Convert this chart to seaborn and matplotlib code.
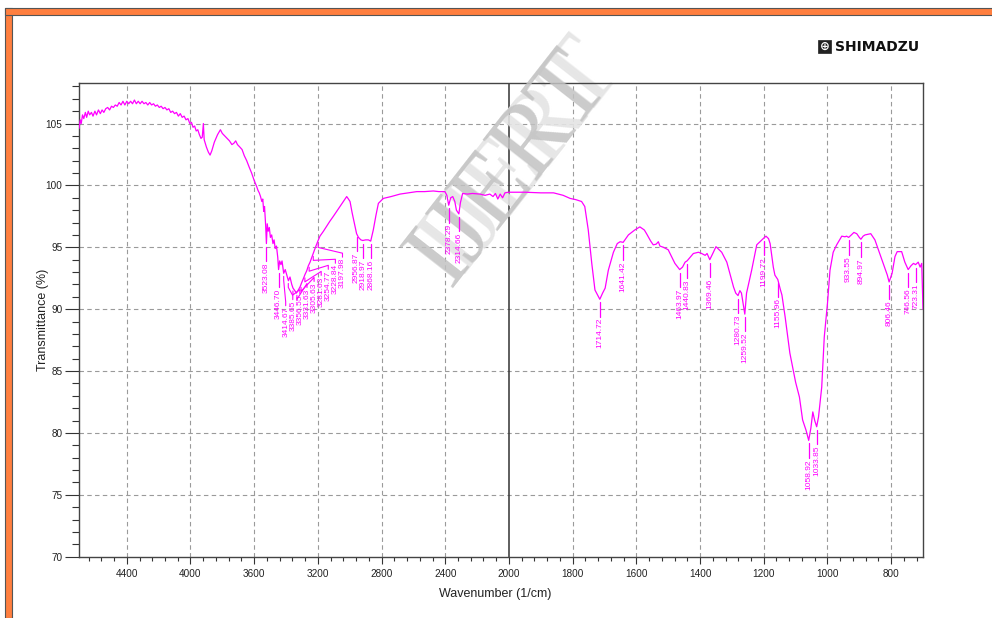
import numpy as np
import pandas as pd
import matplotlib
matplotlib.use("Agg")
import matplotlib.pyplot as plt
from matplotlib import font_manager
from matplotlib.patches import Rectangle
from matplotlib.ticker import FixedLocator, NullFormatter
import matplotlib.transforms as mtransforms
import seaborn as sns

# ---- spectrum (wavenumber in 1/cm, transmittance in %) ----
wavenumber = [
    4700, 4692, 4686, 4678, 4670, 4660, 4652, 4642, 4633, 4622, 4612, 4600, 4590, 4578,
    4566, 4555, 4544, 4532, 4520, 4508, 4496, 4484, 4472, 4460, 4448, 4436, 4424, 4412,
    4400, 4388, 4376, 4364, 4352, 4340, 4328, 4316, 4304, 4292, 4280, 4268, 4256, 4244,
    4232, 4220, 4208, 4196, 4184, 4172, 4160, 4148, 4136, 4124, 4112, 4100, 4088, 4076,
    4064, 4052, 4040, 4028, 4016, 4004, 3994, 3984, 3974, 3964, 3954, 3944, 3934, 3926,
    3919, 3914, 3900, 3888, 3877, 3866, 3850, 3830, 3812, 3800, 3785, 3770, 3755, 3740,
    3728, 3716, 3705, 3690, 3676, 3662, 3647, 3632, 3616, 3600, 3590, 3584, 3576, 3568,
    3560, 3552, 3546, 3540, 3535, 3528, 3523.08, 3518, 3512, 3505, 3498, 3490, 3482, 3475,
    3468, 3460, 3452, 3446.70, 3440, 3432, 3425, 3414.67, 3405, 3396, 3385, 3375, 3364,
    3356, 3345, 3335, 3325, 3312, 3300, 3290, 3281, 3270, 3260, 3249, 3235, 3218, 3200,
    3187, 3165, 3145, 3125, 3103, 3082, 3061, 3040, 3019, 3008, 2998, 2985, 2970, 2956.87,
    2945, 2930, 2918, 2900, 2883, 2868.16, 2852, 2835, 2820, 2789, 2740, 2684, 2630, 2579,
    2530, 2475, 2440, 2402, 2390, 2378.29, 2366, 2353, 2340, 2330, 2314.66, 2305, 2291,
    2260, 2230, 2182, 2150, 2120, 2100, 2085, 2070, 2055, 2040, 2025, 2004, 1950, 1900,
    1860, 1830, 1808, 1790, 1772, 1762, 1751, 1740, 1730, 1714.72, 1706, 1698, 1688, 1672,
    1660, 1651, 1641.42, 1625, 1605, 1589, 1575, 1568, 1555, 1547, 1538, 1531, 1526, 1515,
    1500, 1479, 1463.97, 1455, 1447, 1440.83, 1421, 1405, 1395, 1384, 1378, 1369.46, 1360,
    1350, 1340, 1332, 1316, 1301, 1295, 1288, 1280.73, 1275, 1270, 1259.52, 1254, 1238,
    1222, 1206, 1199.72, 1193, 1185, 1180, 1170, 1165, 1155.96, 1148, 1143, 1133, 1118,
    1100, 1088, 1078, 1067, 1058.92, 1052, 1046, 1040, 1033.85, 1028, 1018, 1010, 1000,
    992, 982, 971, 955, 945, 940, 933.55, 925, 917, 908, 900, 894.97, 888, 882, 864, 851,
    840, 825, 812, 806.46, 797, 788, 781, 767, 757, 746.56, 738, 730, 723.31, 715, 709,
    704, 700,
]
transmittance = [
    104.6, 105.3, 105.0, 105.7, 105.4, 105.9, 105.5, 106.0, 105.7, 105.9, 105.6, 106.0, 105.7, 106.1,
    105.8, 106.1, 105.9, 106.2, 106.3, 106.1, 106.4, 106.3, 106.5, 106.4, 106.7, 106.5, 106.8, 106.5,
    106.8, 106.6, 106.8, 106.6, 106.9, 106.6, 106.8, 106.6, 106.8, 106.6, 106.7, 106.5, 106.7, 106.5,
    106.6, 106.4, 106.5, 106.3, 106.4, 106.2, 106.3, 106.1, 106.2, 105.9, 106.0, 105.8, 105.9, 105.6,
    105.8, 105.5, 105.6, 105.3, 105.4, 105.0, 105.1, 104.7, 104.8, 104.4, 104.5, 104.1, 103.8, 103.9,
    105.0, 103.7, 103.1, 102.7, 102.45, 102.8, 103.5, 104.1, 104.5, 104.2, 104.0, 103.8, 103.6, 103.3,
    103.4, 103.6, 103.3, 103.1, 102.9, 102.4, 102.0, 101.5, 101.0, 100.4, 100.1, 99.9, 99.6, 99.4,
    99.1, 98.7, 98.9, 97.9, 98.3, 96.8, 95.3, 96.9, 96.3, 96.6, 95.8, 96.0, 95.3, 95.6,
    94.9, 95.1, 94.2, 93.2, 93.9, 93.6, 93.9, 92.9, 93.2, 92.8, 92.3, 92.6, 92.0,
    91.7, 91.5, 91.3, 91.5, 91.8, 92.2, 92.5, 92.8, 93.1, 93.5, 93.8, 94.3, 94.9, 95.5,
    95.9, 96.3, 96.7, 97.1, 97.5, 97.9, 98.3, 98.7, 99.1, 98.9, 98.7, 97.8, 96.9, 96.1,
    95.8, 95.6, 95.55, 95.6, 95.6, 95.5, 96.4, 97.6, 98.55, 98.95, 99.1, 99.3, 99.4, 99.5,
    99.5, 99.55, 99.5, 99.5, 99.2, 98.4, 99.0, 99.1, 98.7, 98.0, 97.7, 98.6, 99.35,
    99.3, 99.35, 99.3, 99.2, 99.3, 99.1, 99.35, 98.9, 99.3, 99.0, 99.4, 99.45, 99.45, 99.4,
    99.4, 99.2, 98.95, 98.85, 98.7, 98.3, 96.4, 93.7, 91.55, 90.8, 91.3, 91.7, 93.15, 94.6,
    95.3, 95.45, 95.4, 96.0, 96.4, 96.65, 96.4, 96.1, 95.5, 95.2, 95.25, 95.45, 95.1, 95.0,
    94.8, 93.7, 93.2, 93.4, 93.8, 93.9, 94.5, 94.6, 94.5, 94.35, 94.5, 94.0, 94.5,
    95.05, 94.8, 94.6, 93.8, 92.35, 91.8, 91.3, 91.1, 91.5, 91.3, 89.6, 91.3, 93.15,
    95.2, 95.6, 95.75, 95.9, 95.7, 95.3, 93.4, 92.75, 92.4, 91.6, 91.15, 89.4, 86.45,
    84.1, 82.9, 81.05, 80.2, 79.4, 80.4, 81.7, 81.0, 80.5, 81.3, 83.7, 87.75, 90.45,
    93.15, 94.6, 95.2, 95.9, 95.85, 95.9, 95.8, 96.0, 96.2, 96.1, 95.8, 95.65, 95.9, 96.0, 96.1, 95.6,
    94.8, 93.7, 92.75, 92.2, 92.9, 94.25, 94.65, 94.65, 93.8, 93.2, 93.5, 93.7, 93.6, 93.8, 93.4,
    93.7, 90.0,
]

# ---- peak picks ----
peak_labels = ["3523.08", "3446.70", "2956.87", "2918.97", "2868.16", "2378.29", "2314.66",
               "1714.72", "1641.42", "1463.97", "1440.83", "1369.46", "1280.73", "1259.52",
               "1199.72", "1155.96", "1058.92", "1033.85", "933.55", "894.97", "806.46",
               "746.56", "723.31"]
cluster_labels = ["3414.67", "3385.65", "3356.55", "3331.63", "3305.63", "3281.63",
                  "3254.77", "3228.84", "3197.98"]

x_major = [4400, 4000, 3600, 3200, 2800, 2400, 2000, 1800, 1600, 1400, 1200, 1000, 800]
y_major = [70, 75, 80, 85, 90, 95, 100, 105]

MAGENTA = "#ff00ff"


def first_font(cands):
    for c in cands:
        try:
            font_manager.findfont(font_manager.FontProperties(family=c),
                                  fallback_to_default=False)
            return c
        except ValueError:
            continue
    return "DejaVu Sans"


sns.set_theme(style="white")
narrow = first_font(["Liberation Sans Narrow", "Arial Narrow", "Liberation Sans"])
sans = first_font(["Liberation Sans", "Arial"])
serif = first_font(["Liberation Serif", "DejaVu Serif"])
plt.rcParams["font.family"] = [sans, "DejaVu Sans"]

W, H = 992, 618
fig = plt.figure(figsize=(W / 100, H / 100), dpi=100)
fig.patch.set_facecolor("white")
ax = fig.add_axes([79 / W, 1 - 556.7 / H, (923 - 79) / W, (556.7 - 82.7) / H])

df = pd.DataFrame({"Wavenumber": wavenumber, "Transmittance": transmittance})
sns.lineplot(data=df, x="Wavenumber", y="Transmittance", sort=False, estimator=None,
             color=MAGENTA, lw=0.9, ax=ax, zorder=4)


# two-scale wavenumber axis: above 2000 1/cm is compressed by a factor of two
def fwd(x):
    x = np.asarray(x, dtype=float)
    return np.where(x > 2000, 2000 + (x - 2000) / 2.0, x)


def inv(u):
    u = np.asarray(u, dtype=float)
    return np.where(u > 2000, 2000 + (u - 2000) * 2.0, u)


ax.set_xscale("function", functions=(fwd, inv))
ax.set_xlim(4700, 700)
ax.set_ylim(70, 108.3)

minor_x = [v for v in np.arange(2080, 4700, 80)] + [v for v in np.arange(720, 2000, 40)]
ax.xaxis.set_major_locator(FixedLocator(x_major))
ax.xaxis.set_minor_locator(FixedLocator(minor_x))
ax.xaxis.set_minor_formatter(NullFormatter())
ax.set_xticklabels([str(v) for v in x_major])
ax.yaxis.set_major_locator(FixedLocator(y_major))
ax.yaxis.set_minor_locator(FixedLocator(np.arange(70, 109, 1)))
ax.yaxis.set_minor_formatter(NullFormatter())
ax.set_yticklabels([str(v) for v in y_major])

for lab in ax.get_xticklabels() + ax.get_yticklabels():
    lab.set_fontfamily([narrow, "DejaVu Sans"])
    lab.set_fontsize(7.2)
    lab.set_color("#222222")

ax.tick_params(axis="x", which="major", direction="out", length=5, width=0.8,
               color="#333333", pad=4, bottom=True)
ax.tick_params(axis="x", which="minor", direction="out", length=3, width=0.8,
               color="#333333", bottom=True)
ax.tick_params(axis="y", which="major", direction="out", length=10, width=0.8,
               color="#333333", pad=2, left=True)
ax.tick_params(axis="y", which="minor", direction="out", length=5, width=0.8,
               color="#333333", left=True)

for s in ax.spines.values():
    s.set_visible(True)
    s.set_color("#444444")
    s.set_linewidth(1.0)

grid_kw = dict(color="#9a9a9a", lw=0.8, ls=(0, (4, 3)), zorder=1)
for v in x_major:
    if v != 2000:
        ax.axvline(v, **grid_kw)
for v in y_major[1:]:
    ax.axhline(v, **grid_kw)
ax.axvline(2000, color="#333333", lw=1.1, zorder=2)

ax.set_xlabel("Wavenumber (1/cm)", fontsize=9, family=[narrow, "DejaVu Sans"],
              color="#222222")
ax.set_ylabel("Transmittance (%)", fontsize=9, family=[narrow, "DejaVu Sans"],
              color="#222222")
ax.xaxis.set_label_coords(0.493, -0.065)
ax.yaxis.set_label_coords(-0.036, 0.5)

# ---- peak annotations ----
wn_asc = np.array(wavenumber)[::-1]
tr_asc = np.array(transmittance)[::-1]


def curve_at(w):
    return float(np.interp(w, wn_asc, tr_asc))


label_font = dict(fontsize=6.0, color=MAGENTA, family=[narrow, "DejaVu Sans"],
                  rotation=90, ha="center", va="top", zorder=5)
for lab in peak_labels:
    w = float(lab)
    y0 = curve_at(w) - 0.25
    y1 = y0 - 1.15
    ax.plot([w, w], [y0, y1], color=MAGENTA, lw=0.9, zorder=5)
    ax.text(w, y1 - 0.12, lab, **label_font)

# crowded O-H picks: staggered columns joined to their peaks by leader lines
fig.canvas.draw()
to_disp = ax.transData
to_data = ax.transData.inverted()
first_px = None
for i, lab in enumerate(cluster_labels):
    w = float(lab)
    yc = curve_at(w) - 0.25
    X, Y = to_disp.transform((w, yc))
    if first_px is None:
        first_px = X
    tx = first_px + 2 + 7.1 * i
    ttop_val = 90.2 + 0.49 * i
    _, Ttop = to_disp.transform((w, ttop_val))
    pts_disp = [(X, Y), (X, Y - 4), (tx, Ttop + 5), (tx, Ttop + 1)]
    pts = to_data.transform(pts_disp)
    ax.plot(pts[:, 0], pts[:, 1], color=MAGENTA, lw=0.8, zorder=5)
    ax.text(pts[-1, 0], ttop_val, lab, **label_font)

# ---- watermark ----
wm_kw = dict(fontsize=74, family=[serif, "DejaVu Serif"], rotation=52,
             ha="center", va="center", clip_on=False)
shift = mtransforms.offset_copy(fig.transFigure, fig=fig, x=12, y=14, units="dots")
ax.text(510 / W, 1 - 170 / H, "IJERT", color="#e4e4e4", alpha=0.9, zorder=2.5,
        transform=shift, **wm_kw)
ax.text(510 / W, 1 - 170 / H, "IJERT", color="#c2c2c2", alpha=0.85, zorder=2.6,
        transform=fig.transFigure, **wm_kw)

# ---- page frame and brand mark ----
frame_dark = "#555555"
frame_orange = "#ff7f3f"
fig.patches.append(Rectangle((5 / W, 0), 7 / W, 1 - 8 / H, transform=fig.transFigure,
                             facecolor=frame_orange, edgecolor=frame_dark, lw=0.8))
fig.patches.append(Rectangle((5 / W, 1 - 15 / H), 1 - 5 / W + 0.01, 7 / H,
                             transform=fig.transFigure, facecolor=frame_orange,
                             edgecolor=frame_dark, lw=0.8))

fig.patches.append(Rectangle((818 / W, 1 - 53 / H), 13 / W, 13 / H, transform=fig.transFigure,
                             facecolor="#222222", edgecolor="#222222", lw=0.5))
fig.text(824.5 / W, 1 - 46.5 / H, "\u2295", color="white", fontsize=8.5, ha="center",
         va="center", family="DejaVu Sans", weight="bold")
fig.text(835 / W, 1 - 47 / H, "SHIMADZU", color="#111111", fontsize=10, ha="left",
         va="center", family="DejaVu Sans", weight="bold")

fig.savefig("out.png", dpi=100, facecolor="white")
